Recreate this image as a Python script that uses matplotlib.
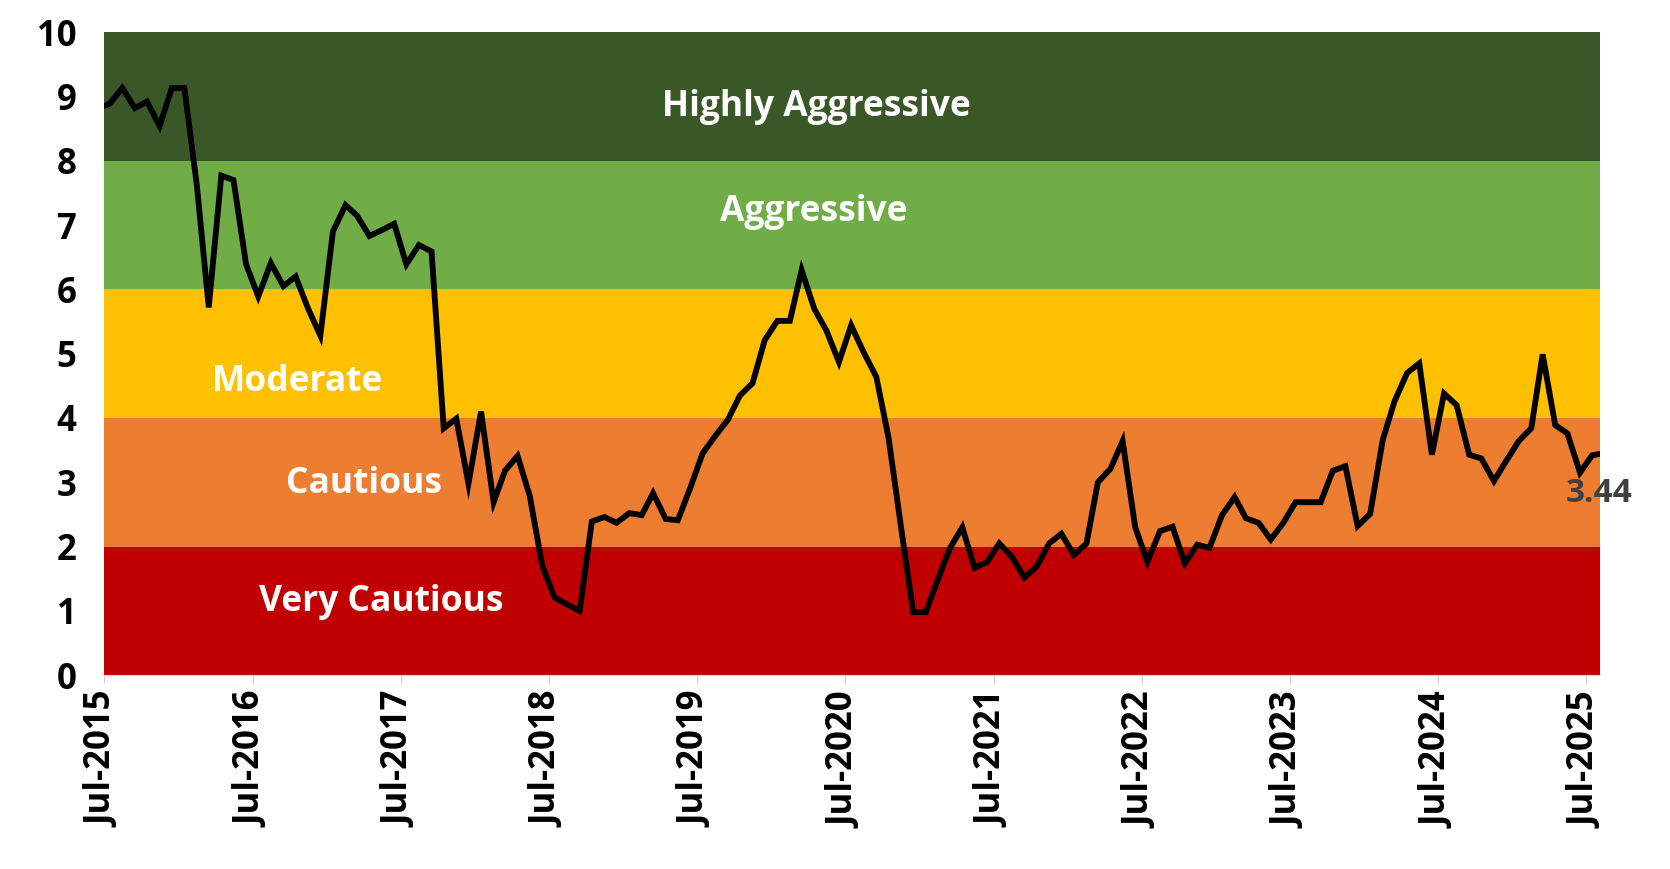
import pandas as pd
import matplotlib.pyplot as plt
import matplotlib.dates as mdates

# monthly readings (mid-month), plus the chart's first and latest points
dates = (['2015-07-01']
         + [d.strftime('%Y-%m-%d') for d in pd.date_range('2015-07-01', periods=121, freq='MS') + pd.Timedelta(days=14)]
         + ['2025-08-01'])

values = [8.85,
          8.89, 9.13, 8.82, 8.92, 8.54, 9.13, 9.13, 7.60, 5.72, 7.77, 7.70, 6.39,
          5.89, 6.41, 6.05, 6.20, 5.70, 5.28, 6.90, 7.31, 7.15, 6.83, 6.92, 7.02,
          6.39, 6.69, 6.59, 3.84, 3.99, 2.98, 4.10, 2.69, 3.18, 3.41, 2.79, 1.70,
          1.21, 1.10, 1.00, 2.39, 2.46, 2.37, 2.52, 2.49, 2.83, 2.43, 2.41, 2.92,
          3.45, 3.72, 3.97, 4.35, 4.54, 5.21, 5.51, 5.51, 6.30, 5.70, 5.36, 4.87,
          5.44, 5.02, 4.64, 3.70, 2.30, 0.98, 0.98, 1.51, 1.97, 2.30, 1.67, 1.76,
          2.05, 1.84, 1.52, 1.69, 2.05, 2.20, 1.87, 2.05, 3.00, 3.21, 3.64, 2.30,
          1.76, 2.24, 2.31, 1.74, 2.03, 1.98, 2.49, 2.77, 2.44, 2.37, 2.11, 2.37,
          2.69, 2.69, 2.69, 3.18, 3.25, 2.32, 2.51, 3.66, 4.26, 4.70, 4.85, 3.43,
          4.38, 4.20, 3.43, 3.37, 3.02, 3.33, 3.64, 3.84, 4.99, 3.89, 3.76, 3.15,
          3.42,
          3.44]

# risk bands: (low, high, colour, label, label date, label y)
bands = [
    (0, 2, '#C00000', 'Very Cautious', '2017-05-15', 1.14),
    (2, 4, '#ED7D31', 'Cautious', '2017-04-01', 2.97),
    (4, 6, '#FFC000', 'Moderate', '2016-10-20', 4.56),
    (6, 8, '#70AD47', 'Aggressive', '2020-04-15', 7.21),
    (8, 10, '#3A5727', 'Highly Aggressive', '2020-04-20', 8.83),
]

x = pd.to_datetime(dates)

fig = plt.figure(figsize=(16.7, 8.69), dpi=100)
ax = fig.add_axes([0.0623, 0.223, 0.8957, 0.740])

for lo, hi, col, name, lx, ly in bands:
    ax.axhspan(lo, hi, color=col, zorder=0, lw=0)
    ax.text(pd.Timestamp(lx), ly, name, color='white', fontsize=25.5, fontweight='bold',
            family='Open Sans', ha='center', va='center', zorder=3)

ax.plot(x, values, color='black', lw=4.2, zorder=2, solid_joinstyle='miter')

ax.text(x[-1], 2.83, f'{values[-1]:.2f}', color='#404040', fontsize=24, fontweight='bold',
        family='Open Sans', ha='center', va='center', clip_on=False)

ax.set_xlim(pd.Timestamp('2015-07-01'), pd.Timestamp('2025-08-03'))
ax.set_ylim(0, 10)

ax.set_yticks(range(0, 11))
ticks = pd.date_range('2015-07-01', '2025-07-01', freq='12MS')
ax.set_xticks(ticks)
ax.xaxis.set_major_formatter(mdates.DateFormatter('%b-%Y'))

for lab in ax.get_xticklabels() + ax.get_yticklabels():
    lab.set_fontweight('bold')
    lab.set_fontsize(25)
    lab.set_family('Open Sans')
for lab in ax.get_xticklabels():
    lab.set_rotation(90)

ax.tick_params(axis='y', length=0, pad=20)
ax.tick_params(axis='x', length=6, color='#D0D0D0', pad=6)
for s in ['left', 'right', 'top']:
    ax.spines[s].set_visible(False)
ax.spines['bottom'].set_color('#D9D9D9')

fig.savefig('out.png', dpi=100)
